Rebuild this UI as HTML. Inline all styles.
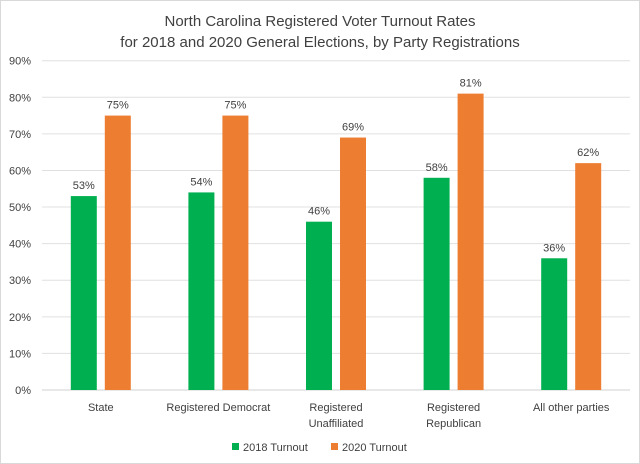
<!DOCTYPE html>
<html><head><meta charset="utf-8"><style>
body{margin:0;background:#fff;}
svg{display:block;font-family:"Liberation Sans",sans-serif;}
</style></head><body>
<svg id="c" width="640" height="464">
<rect x="0.5" y="0.5" width="639" height="463" fill="#fff" stroke="#d9d9d9"/>
<text x="320" y="26" text-anchor="middle" font-size="15" fill="#404040">North Carolina Registered Voter Turnout Rates</text>
<text x="320" y="47" text-anchor="middle" font-size="15" fill="#404040">for 2018 and 2020 General Elections, by Party Registrations</text>
<g id="grid"></g><g id="bars"></g><g id="labels"></g>
<rect x="232" y="443" width="7" height="7" fill="#00b050"/>
<text x="243" y="451" font-size="11" fill="#404040">2018 Turnout</text>
<rect x="331" y="443" width="7" height="7" fill="#ed7d31"/>
<text x="342" y="451" font-size="11" fill="#404040">2020 Turnout</text>
</svg>
<script>
const categories=[["State"],["Registered Democrat"],["Registered","Unaffiliated"],["Registered","Republican"],["All other parties"]];
const turnout2018=[53,54,46,58,36];
const turnout2020=[75,75,69,81,62];
const ticks=[0,10,20,30,40,50,60,70,80,90];
const NS="http://www.w3.org/2000/svg";
const L=42,R=630,Y0=390,Y90=60.7;
const y=v=>Y0-(v/90)*(Y0-Y90);
const band=(R-L)/categories.length;
const cx=i=>L+band*(i+0.5);
function mk(t,a,p){const e=document.createElementNS(NS,t);for(const k in a)e.setAttribute(k,a[k]);p.appendChild(e);return e;}
const g=document.getElementById('grid'),b=document.getElementById('bars'),lb=document.getElementById('labels');
ticks.forEach(t=>{
 const ln=mk('line',{x1:L,x2:R,y1:y(t),y2:y(t),stroke:t===0?'#d0d0d0':'#e0e0e0','stroke-width':1},g);
 
 
 const tx=mk('text',{x:31,y:y(t)+4,'text-anchor':'end','font-size':11,fill:'#404040'},g);
 tx.textContent=t+'%';
 
 
});
categories.forEach((c,i)=>{
 const x=cx(i);
 [[turnout2018[i],'#00b050',x-30,'2018'],[turnout2020[i],'#ed7d31',x+4,'2020']].forEach(([v,col,bx,s])=>{
  const r=mk('rect',{x:bx,y:y(v),width:26,height:Y0-y(v),fill:col},b);
  
  
  const t=mk('text',{x:bx+13,y:y(v)-7,'text-anchor':'middle','font-size':11,fill:'#404040'},lb);
  t.textContent=v+'%';
  
  
 });
 c.forEach((line,j)=>{
  const t=mk('text',{x:x,y:411+j*16,'text-anchor':'middle','font-size':11,fill:'#404040'},lb);
  t.textContent=line;
  
  
 });
});
</script>
</body></html>
